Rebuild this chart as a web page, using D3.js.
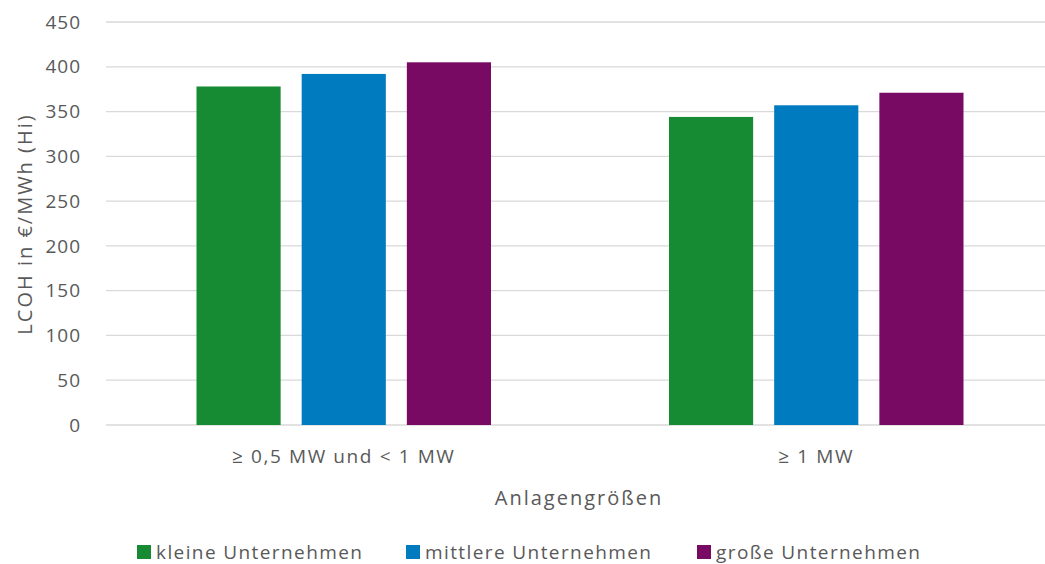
<!DOCTYPE html>
<html>
<head>
<meta charset="utf-8">
<script src="https://cdn.jsdelivr.net/npm/d3@7"></script>
<style>
  body { margin: 0; background: #fff; }
  svg { display: block; font-family: "Open Sans", sans-serif; }
</style>
</head>
<body>
<div id="viz"></div>
<script>
const categories = ["≥ 0,5 MW und < 1 MW", "≥ 1 MW"];
const series = ["kleine Unternehmen", "mittlere Unternehmen", "große Unternehmen"];
const kleine = [378, 344];
const mittlere = [392, 357];
const grosse = [405, 371];
const yTicks = [0, 50, 100, 150, 200, 250, 300, 350, 400, 450];
const colors = ["#168b33", "#007bbf", "#780a64"];

const values = [kleine, mittlere, grosse];
const rows = categories.map((c, i) => ({
  cat: c,
  vals: series.map((s, j) => ({ key: s, value: values[j][i] }))
}));

const width = 1045, height = 564;
const svg = d3.select("#viz").append("svg")
  .attr("width", width)
  .attr("height", height);

const x0 = d3.scaleBand()
  .domain(categories)
  .range([107.5, 1052.5]);

const x1 = d3.scaleBand()
  .domain(series)
  .range([89, x0.bandwidth() - 89])
  .paddingInner(0.2);

const y = d3.scaleLinear()
  .domain([0, 450])
  .range([425, 22]);

const color = d3.scaleOrdinal().domain(series).range(colors);

// gridlines
svg.append("g")
  .selectAll("line")
  .data(yTicks)
  .enter().append("line")
  .attr("x1", 106)
  .attr("x2", 1052)
  .attr("y1", d => y(d))
  .attr("y2", d => y(d))
  .attr("stroke", "#d9d9d9")
  .attr("stroke-width", 1.3);

// y tick labels
svg.append("g")
  .selectAll("text")
  .data(yTicks)
  .enter().append("text")
  .attr("x", 81)
  .attr("y", d => y(d))
  .attr("dy", "0.35em")
  .attr("text-anchor", "end")
  .attr("fill", "#595959")
  .style("font-size", "19px")
  .style("letter-spacing", "1px")
  .text(d => d);

// bars
const groups = svg.append("g")
  .selectAll("g")
  .data(rows)
  .enter().append("g")
  .attr("transform", d => `translate(${x0(d.cat)},0)`);

groups.selectAll("rect")
  .data(d => d.vals)
  .enter().append("rect")
  .attr("x", d => x1(d.key))
  .attr("width", x1.bandwidth())
  .attr("y", d => y(d.value))
  .attr("height", d => y(0) - y(d.value))
  .attr("fill", d => color(d.key));

// category labels
svg.append("g")
  .selectAll("text")
  .data(categories)
  .enter().append("text")
  .attr("x", d => x0(d) + x0.bandwidth() / 2)
  .attr("y", 463)
  .attr("text-anchor", "middle")
  .attr("fill", "#595959")
  .style("font-size", "19px")
  .style("letter-spacing", "1.6px")
  .text(d => d);

// axis titles
svg.append("text")
  .attr("x", 579)
  .attr("y", 505)
  .attr("text-anchor", "middle")
  .attr("fill", "#595959")
  .style("font-size", "20px")
  .style("letter-spacing", "2px")
  .text("Anlagengrößen");

svg.append("text")
  .attr("transform", "translate(32,224) rotate(-90)")
  .attr("text-anchor", "middle")
  .attr("fill", "#595959")
  .style("font-size", "20px")
  .style("letter-spacing", "2px")
  .text("LCOH in €/MWh (Hi)");

// legend
const legendX = [137, 406, 697];
const legend = svg.append("g")
  .selectAll("g")
  .data(series)
  .enter().append("g")
  .attr("transform", (d, i) => `translate(${legendX[i]},545)`);

legend.append("rect")
  .attr("width", 14)
  .attr("height", 14)
  .attr("fill", d => color(d));

legend.append("text")
  .attr("x", 19)
  .attr("y", 7)
  .attr("dy", "0.35em")
  .attr("fill", "#595959")
  .style("font-size", "19px")
  .style("letter-spacing", "1.4px")
  .text(d => d);
</script>
</body>
</html>
